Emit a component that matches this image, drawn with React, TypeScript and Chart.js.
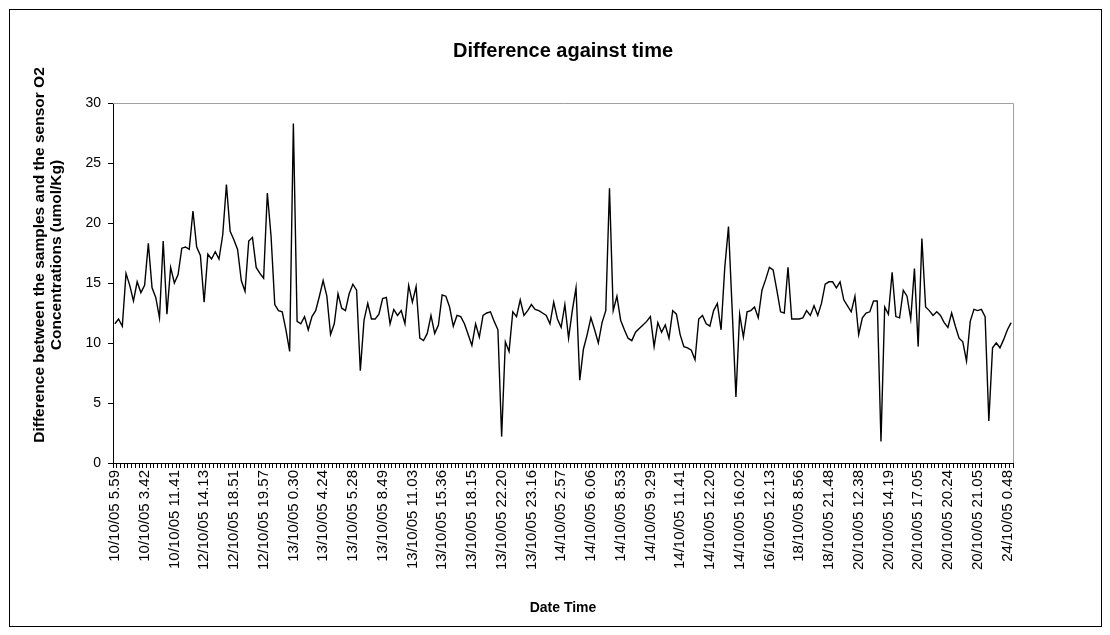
import React, { useEffect, useRef } from 'react';
import { Chart, registerables } from 'chart.js';

Chart.register(...registerables);

const tickLabels = [
  '10/10/05 5.59', '10/10/05 3.42', '10/10/05 11.41', '12/10/05 14.13', '12/10/05 18.51',
  '12/10/05 19.57', '13/10/05 0.30', '13/10/05 4.24', '13/10/05 5.28', '13/10/05 8.49',
  '13/10/05 11.03', '13/10/05 15.36', '13/10/05 18.15', '13/10/05 22.20', '13/10/05 23.16',
  '14/10/05 2.57', '14/10/05 6.06', '14/10/05 8.53', '14/10/05 9.29', '14/10/05 11.41',
  '14/10/05 12.20', '14/10/05 16.02', '16/10/05 12.13', '18/10/05 8.56', '18/10/05 21.48',
  '20/10/05 12.38', '20/10/05 14.19', '20/10/05 17.05', '20/10/05 20.24', '20/10/05 21.05',
  '24/10/05 0.48',
];

const LABEL_EVERY = 8;

const differenceValues = [
  11.6, 12.0, 11.4, 15.8, 14.8, 13.5, 15.1, 14.2, 14.8, 18.3,
  14.6, 13.8, 12.1, 18.5, 12.4, 16.3, 15.0, 15.7, 17.9, 18.0,
  17.8, 21.0, 18.0, 17.3, 13.4, 17.4, 17.0, 17.6, 17.0, 19.0,
  23.2, 19.3, 18.6, 17.8, 15.2, 14.3, 18.5, 18.8, 16.3, 15.8,
  15.4, 22.5, 18.9, 13.2, 12.7, 12.6, 11.1, 9.3, 28.3, 11.8,
  11.6, 12.2, 11.1, 12.2, 12.7, 13.9, 15.2, 13.9, 10.7,
  11.6, 14.1, 12.9, 12.7, 14.1, 14.9, 14.4, 7.7, 11.9, 13.3,
  12.0, 12.0, 12.4, 13.7, 13.8, 11.6, 12.8, 12.3, 12.7, 11.6,
  14.8, 13.4, 14.7, 10.4, 10.2, 10.8, 12.3, 10.8, 11.5, 14.0,
  13.9, 13.0, 11.4, 12.3, 12.2, 11.6, 10.7, 9.8, 11.6, 10.5,
  12.3, 12.5, 12.6, 11.8, 11.1, 2.2, 10.1, 9.3, 12.6, 12.2,
  13.6, 12.3, 12.7, 13.2, 12.8, 12.7, 12.5, 12.3, 11.6,
  13.4, 12.0, 11.3, 13.2, 10.4, 12.7, 14.6, 6.9, 9.5, 10.7,
  12.1, 11.1, 10.0, 11.7, 12.7, 22.9, 12.7, 13.9, 11.9, 11.1,
  10.4, 10.2, 10.9, 11.2, 11.5, 11.8, 12.2, 9.7, 11.7, 10.9,
  11.5, 10.4, 12.7, 12.4, 10.7, 9.7, 9.6, 9.4, 8.6, 12.0,
  12.3, 11.6, 11.4, 12.7, 13.3, 11.1, 16.3, 19.7, 12.7, 5.5,
  12.4, 10.5, 12.6, 12.7, 13.0, 12.1, 14.4, 15.3, 16.3,
  16.1, 14.4, 12.6, 12.5, 16.3, 12.0, 12.0, 12.0, 12.1, 12.7,
  12.3, 13.1, 12.3, 13.3, 14.9, 15.1, 15.1, 14.6, 15.1, 13.6,
  13.1, 12.6, 13.9, 10.7, 12.1, 12.5, 12.6, 13.5, 13.5,
  1.8,
  13.0, 12.4, 15.9, 12.2, 12.1, 14.4, 13.9, 12.0, 16.2, 9.7,
  18.7, 13.0, 12.7, 12.3, 12.6, 12.3, 11.7, 11.3, 12.5, 11.4,
  10.4, 10.1, 8.5, 11.8, 12.8, 12.7, 12.8, 12.2, 3.5,
  9.6, 10.0, 9.6, 10.3, 11.1, 11.7,
];

const yTicks = [0, 5, 10, 15, 20, 25, 30];

const chartTitle = 'Difference against time';
const yTitleLines = ['Difference between the samples and the sensor O2', 'Concentrations (umol/Kg)'];
const xTitle = 'Date Time';

const categories = differenceValues.map((_, i) =>
  i % LABEL_EVERY === 0 ? tickLabels[i / LABEL_EVERY] ?? '' : ''
);

const FONT = "'Liberation Sans', Arial, sans-serif";

export default function App() {
  const ref = useRef<HTMLCanvasElement>(null);

  useEffect(() => {
    const canvas = ref.current;
    if (!canvas) return;

    const decor = {
      id: 'decor',
      beforeDraw(chart: any) {
        const { ctx, width, height } = chart;
        ctx.save();
        ctx.fillStyle = '#ffffff';
        ctx.fillRect(0, 0, width, height);
        ctx.restore();
      },
      beforeDatasetsDraw(chart: any) {
        const { ctx, chartArea } = chart;
        ctx.save();
        ctx.strokeStyle = '#a0a0a0';
        ctx.lineWidth = 1;
        ctx.beginPath();
        ctx.moveTo(Math.round(chartArea.left), Math.round(chartArea.top) + 0.5);
        ctx.lineTo(Math.round(chartArea.right) + 0.5, Math.round(chartArea.top) + 0.5);
        ctx.lineTo(Math.round(chartArea.right) + 0.5, Math.round(chartArea.bottom));
        ctx.stroke();
        ctx.restore();
      },
      afterDraw(chart: any) {
        const { ctx, chartArea, width, height } = chart;
        ctx.save();
        ctx.strokeStyle = '#000000';
        ctx.lineWidth = 1;
        ctx.strokeRect(1.5, 1.5, width - 3, height - 3);

        const cx = (chartArea.left + chartArea.right) / 2;
        ctx.fillStyle = '#000000';
        ctx.textAlign = 'center';
        ctx.textBaseline = 'middle';
        ctx.font = `bold 20px ${FONT}`;
        ctx.fillText(chartTitle, cx, 43);

        ctx.font = `bold 14px ${FONT}`;
        ctx.fillText(xTitle, cx, 600);

        ctx.font = `bold 15.5px ${FONT}`;
        ctx.translate(32, 247);
        ctx.rotate(-Math.PI / 2);
        yTitleLines.forEach((line, i) => {
          ctx.fillText(line, 0, i * 17);
        });
        ctx.restore();
      },
    };

    const chart = new Chart(canvas, {
      type: 'line',
      data: {
        labels: categories,
        datasets: [
          {
            data: differenceValues,
            borderColor: '#000000',
            borderWidth: 1.4,
            pointRadius: 0,
            tension: 0,
            fill: false,
          },
        ],
      },
      options: {
        animation: false,
        responsive: false,
        events: [],
        layout: { padding: { top: 95, right: 90, bottom: 0, left: 0 } },
        plugins: {
          legend: { display: false },
          title: { display: false },
          tooltip: { enabled: false },
        },
        scales: {
          x: {
            type: 'category',
            offset: true,
            afterFit: (scale: any) => {
              scale.height = 165;
            },
            grid: {
              offset: true,
              drawOnChartArea: false,
              drawTicks: true,
              tickLength: 5,
              color: '#000000',
            },
            border: { display: true, color: '#000000', width: 1 },
            ticks: {
              autoSkip: false,
              maxRotation: 90,
              minRotation: 90,
              padding: 2,
              color: '#000000',
              font: { family: FONT, size: 15 },
              callback: (_v: any, i: number) => categories[i],
            },
          },
          y: {
            min: 0,
            max: 30,
            afterFit: (scale: any) => {
              scale.width = 105;
            },
            afterBuildTicks: (scale: any) => {
              scale.ticks = yTicks.map((v) => ({ value: v }));
            },
            grid: {
              drawOnChartArea: false,
              drawTicks: true,
              tickLength: 5,
              color: '#000000',
            },
            border: { display: true, color: '#000000', width: 1 },
            ticks: {
              padding: 7,
              color: '#000000',
              font: { family: FONT, size: 14 },
            },
          },
        },
      },
      plugins: [decor],
    });

    return () => chart.destroy();
  }, []);

  return <canvas ref={ref} width={1095} height={620} style={{ display: 'block' }} />;
}
